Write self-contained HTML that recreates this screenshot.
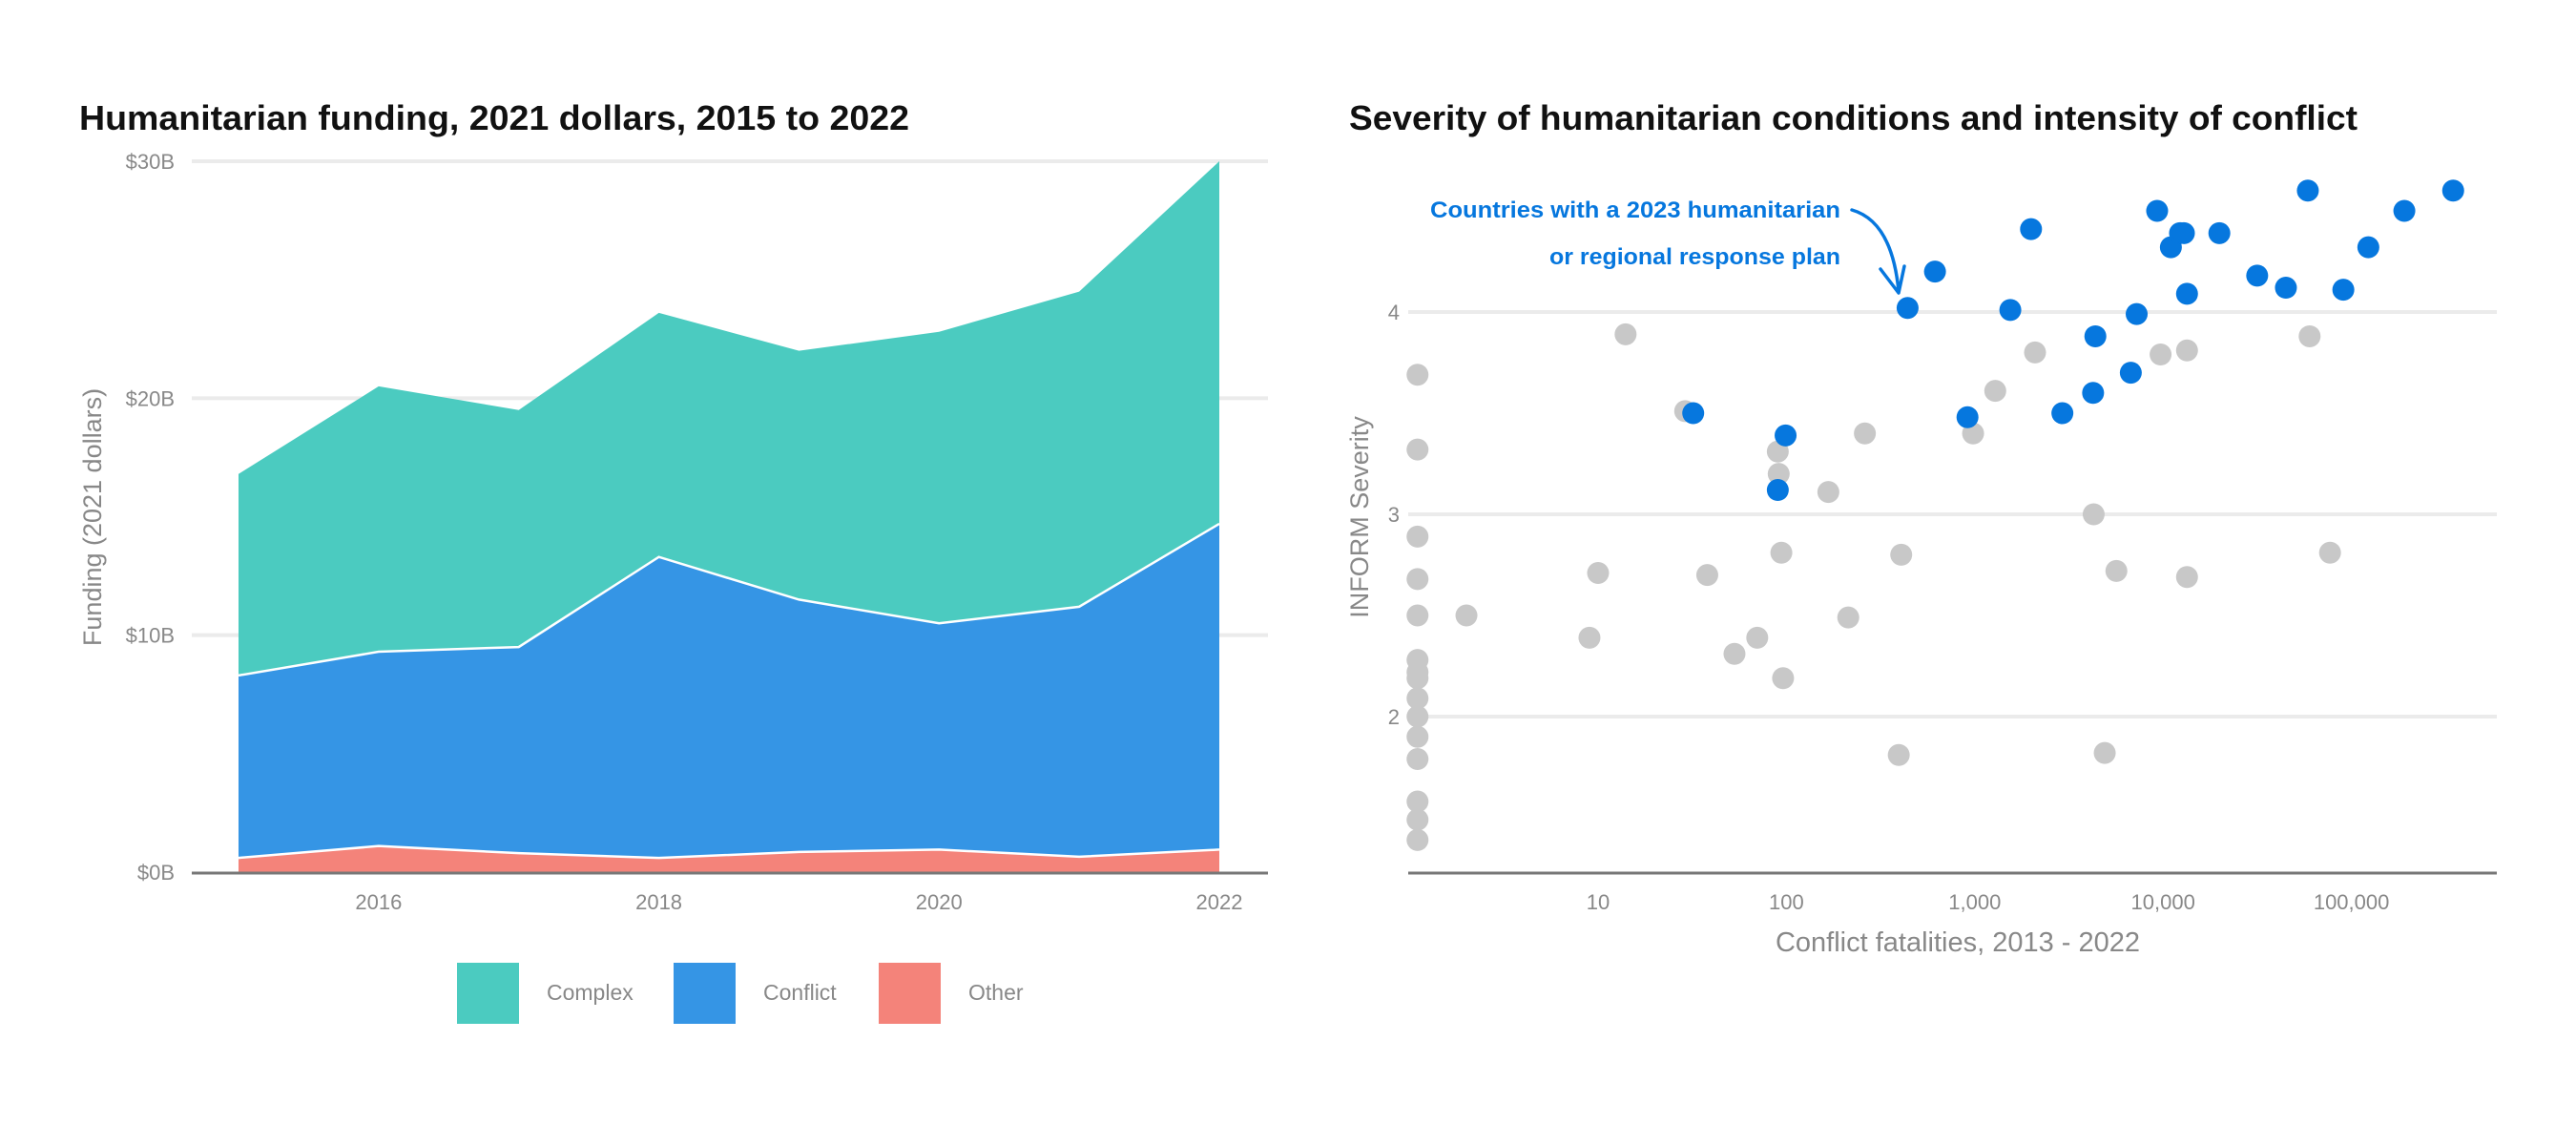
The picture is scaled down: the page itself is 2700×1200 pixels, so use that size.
<!DOCTYPE html>
<html><head><meta charset="utf-8"><style>
html,body{margin:0;padding:0;background:#fff;}
svg{display:block;font-family:"Liberation Sans",sans-serif;}
</style></head><body>
<svg id="chart" width="2700" height="1200" viewBox="0 0 2700 1200" xmlns="http://www.w3.org/2000/svg">
<rect width="2700" height="1200" fill="#fff"/>
<g id="left"></g>
<g id="right"></g>
</svg>
<script>
// ---- Left chart data ----
const years = [2015, 2016, 2017, 2018, 2019, 2020, 2021, 2022];
const otherVals = [0.6, 1.1, 0.8, 0.6, 0.85, 0.95, 0.65, 0.95];
const conflictVals = [7.7, 8.2, 8.7, 12.7, 10.65, 9.55, 10.55, 13.75];
const complexVals = [8.5, 11.2, 10.0, 10.3, 10.5, 12.3, 13.3, 15.3];
const yTicksL = [0, 10, 20, 30];
const xTicksL = [2016, 2018, 2020, 2022];
const seriesNames = ["Complex", "Conflict", "Other"];

// ---- Right chart data ----
const grayFat = [1.1,1.1,1.1,1.1,1.1,1.1,1.1,1.1,1.1,1.1,1.1,1.1,1.1,1.1,1.1,2,9,10,14,29,38,53,70,90,91,94,96,167,213,261,395,407,980,1285,2090,4280,4900,5650,9700,13400,13400,60000,77000];
const graySev = [3.69,3.32,2.89,2.68,2.50,2.28,2.22,2.19,2.09,2.00,1.90,1.79,1.58,1.49,1.39,2.50,2.39,2.71,3.89,3.51,2.70,2.31,2.39,3.31,3.20,2.81,2.19,3.11,2.49,3.40,1.81,2.80,3.40,3.61,3.80,3.00,1.82,2.72,3.79,3.81,2.69,3.88,2.81];
const blueFat = [32,99,90,440,615,915,1545,1990,2920,4250,4370,6740,7240,9300,11000,12300,12900,13400,19900,31600,44900,58700,90600,123000,191000,347000];
const blueSev = [3.50,3.39,3.12,4.02,4.20,3.48,4.01,4.41,3.50,3.60,3.88,3.70,3.99,4.50,4.32,4.39,4.39,4.09,4.39,4.18,4.12,4.60,4.11,4.32,4.50,4.60];
const yTicksR = [2, 3, 4];
const xTicksR = [10, 100, 1000, 10000, 100000];
const xTickLabelsR = ["10", "100", "1,000", "10,000", "100,000"];

const NS = "http://www.w3.org/2000/svg";
function mk(parent, tag, attrs, text) {
  const e = document.createElementNS(NS, tag);
  for (const k in attrs) e.setAttribute(k, attrs[k]);
  if (text !== undefined) e.textContent = text;
  parent.appendChild(e);
  return e;
}

// ===== Left chart =====
const L = document.getElementById('left');
const xL = y => 250 + (y - 2015) * (1278 - 250) / 7;
const yL = v => 914 - v * (914 - 169) / 30;
let t = mk(L, 'text', {x: 83, y: 136, 'font-size': 36, 'font-weight': 'bold', fill: '#111', textLength: 870, lengthAdjust: 'spacingAndGlyphs'}, 'Humanitarian funding, 2021 dollars, 2015 to 2022');


yTicksL.forEach(v => {
  if (v > 0) {
    const g = mk(L, 'line', {x1: 201, x2: 1329, y1: yL(v), y2: yL(v), stroke: '#ebebeb', 'stroke-width': 4});
    
    
  }
  const tl = mk(L, 'text', {x: 183, y: yL(v) + 8, 'font-size': 22, fill: '#888', 'text-anchor': 'end'}, '$' + v + 'B');
  
  
});
const otherTop = otherVals;
const conflictTop = otherVals.map((v, i) => v + conflictVals[i]);
const complexTop = conflictTop.map((v, i) => v + complexVals[i]);
function area(top, bot, color, name) {
  let d = 'M' + years.map((y, i) => xL(y) + ',' + yL(top[i])).join('L');
  d += 'L' + years.slice().reverse().map((y, j) => xL(y) + ',' + yL(bot[years.length - 1 - j])).join('L') + 'Z';
  const p = mk(L, 'path', {d: d, fill: color});
  
  
}
area(complexTop, conflictTop, '#4bcbc0', 'complex-area');
area(conflictTop, otherTop, '#3595e5', 'conflict-area');
area(otherTop, years.map(() => 0), '#f4837a', 'other-area');
[conflictTop, otherTop].forEach(top => {
  const pl = mk(L, 'polyline', {points: years.map((y, i) => xL(y) + ',' + yL(top[i])).join(' '), fill: 'none', stroke: '#fff', 'stroke-width': 2.5});
  
  
});
let ax = mk(L, 'line', {x1: 201, x2: 1329, y1: 915, y2: 915, stroke: '#777', 'stroke-width': 3});


xTicksL.forEach(y => {
  const tl = mk(L, 'text', {x: xL(y), y: 953, 'font-size': 22, fill: '#888', 'text-anchor': 'middle'}, String(y));
  
  
});
t = mk(L, 'text', {x: 0, y: 0, 'font-size': 27, fill: '#888', 'text-anchor': 'middle', transform: 'translate(106,542) rotate(-90)'}, 'Funding (2021 dollars)');


const legX = [479, 706, 921];
const legC = ['#4bcbc0', '#3595e5', '#f4837a'];
seriesNames.forEach((n, i) => {
  const r = mk(L, 'rect', {x: legX[i], y: 1009, width: 65, height: 64, fill: legC[i]});
  
  
  const tx = mk(L, 'text', {x: legX[i] + 94, y: 1048, 'font-size': 23, fill: '#888'}, n);
  
  
});

// ===== Right chart =====
const R = document.getElementById('right');
const xR = f => 1477.6 + Math.log10(f) * 197.4;
const yR = s => 327 + (4 - s) * 212;
t = mk(R, 'text', {x: 1414, y: 136, 'font-size': 36, 'font-weight': 'bold', fill: '#111', textLength: 1057, lengthAdjust: 'spacingAndGlyphs'}, 'Severity of humanitarian conditions and intensity of conflict');


yTicksR.forEach(v => {
  const g = mk(R, 'line', {x1: 1476, x2: 2617, y1: yR(v), y2: yR(v), stroke: '#ebebeb', 'stroke-width': 4});
  
  
  const tl = mk(R, 'text', {x: 1467, y: yR(v) + 8, 'font-size': 22, fill: '#888', 'text-anchor': 'end'}, String(v));
  
  
});
ax = mk(R, 'line', {x1: 1476, x2: 2617, y1: 915, y2: 915, stroke: '#777', 'stroke-width': 3});


xTicksR.forEach((v, i) => {
  const tl = mk(R, 'text', {x: xR(v), y: 953, 'font-size': 22, fill: '#888', 'text-anchor': 'middle'}, xTickLabelsR[i]);
  
  
});
t = mk(R, 'text', {x: 2052, y: 997, 'font-size': 29, fill: '#888', 'text-anchor': 'middle'}, 'Conflict fatalities, 2013 - 2022');


t = mk(R, 'text', {x: 0, y: 0, 'font-size': 27, fill: '#888', 'text-anchor': 'middle', transform: 'translate(1434,542) rotate(-90)'}, 'INFORM Severity');


grayFat.forEach((f, i) => {
  const c = mk(R, 'circle', {cx: xR(f), cy: yR(graySev[i]), r: 11.5, fill: '#c8c8c8'});
  
  
});
blueFat.forEach((f, i) => {
  const c = mk(R, 'circle', {cx: xR(f), cy: yR(blueSev[i]), r: 11.5, fill: '#0677de'});
  
  
});
t = mk(R, 'text', {x: 1929, y: 228, 'font-size': 24, 'font-weight': 'bold', fill: '#0677de', 'text-anchor': 'end', textLength: 430, lengthAdjust: 'spacingAndGlyphs'}, 'Countries with a 2023 humanitarian');


t = mk(R, 'text', {x: 1929, y: 277, 'font-size': 24, 'font-weight': 'bold', fill: '#0677de', 'text-anchor': 'end', textLength: 305, lengthAdjust: 'spacingAndGlyphs'}, 'or regional response plan');


t = mk(R, 'path', {d: 'M1941,220 Q1983,232 1990,305 M1971,282 L1990,307 L1996,279', fill: 'none', stroke: '#0677de', 'stroke-width': 3.5, 'stroke-linecap': 'round', 'stroke-linejoin': 'round'});


</script>
</body></html>
